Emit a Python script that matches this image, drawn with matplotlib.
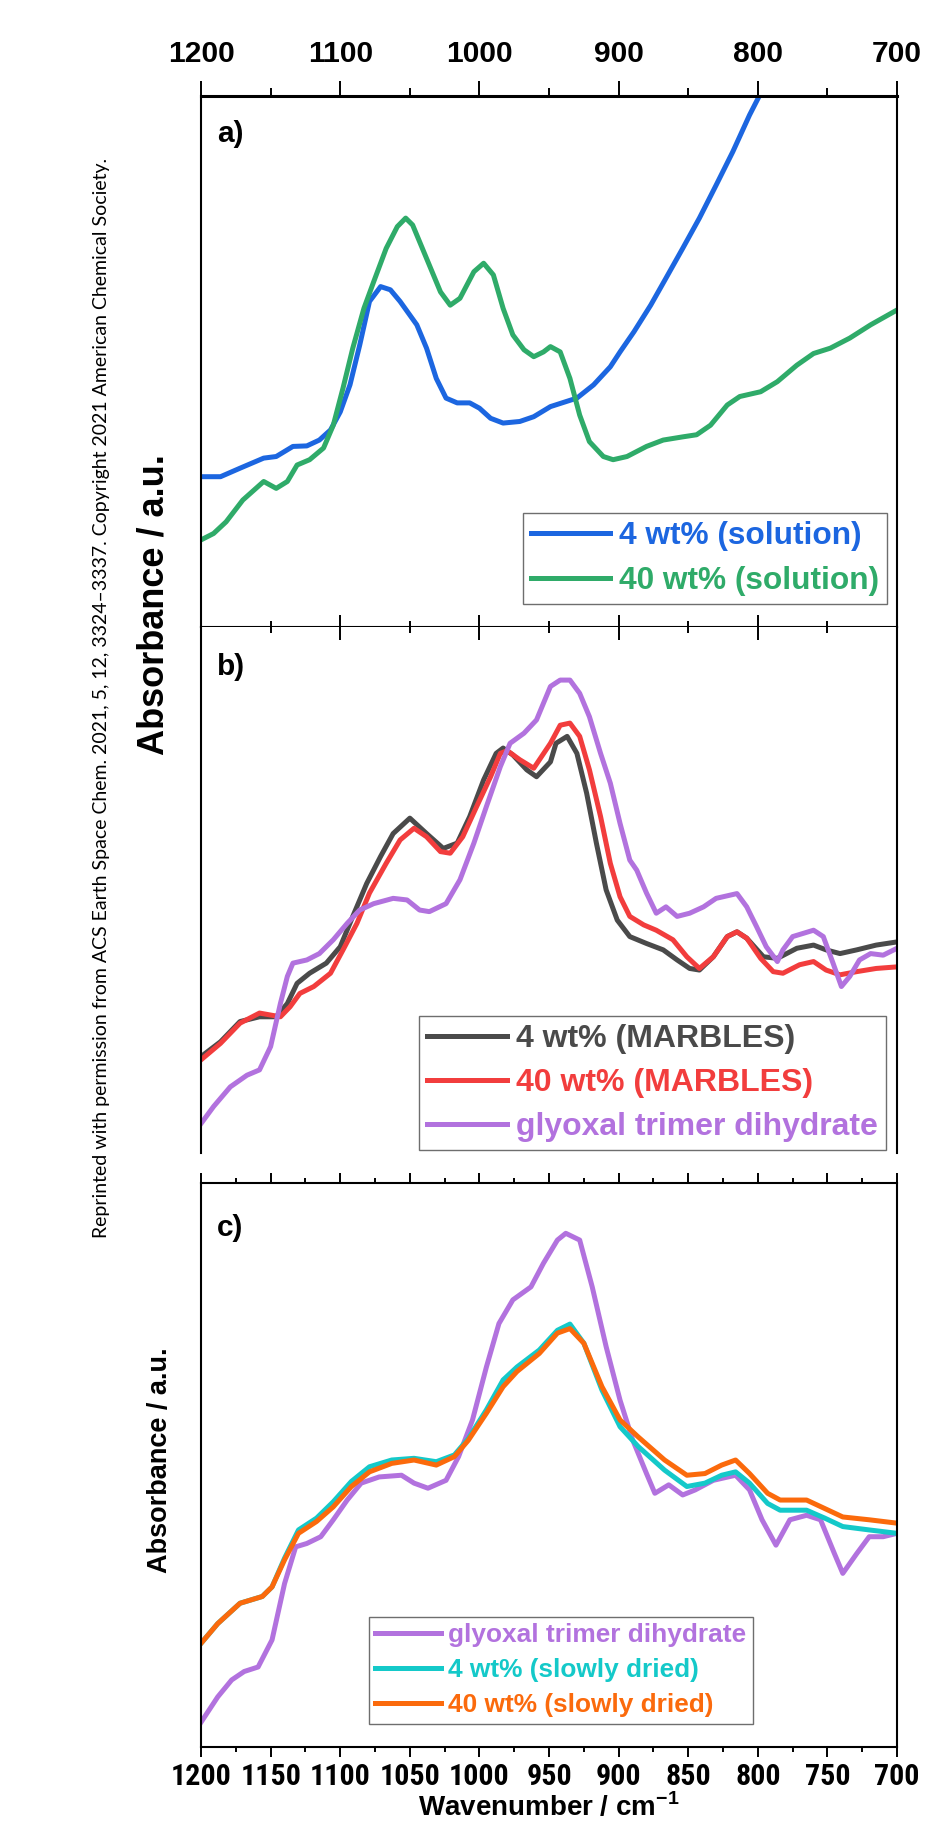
## plot.py
# three stacked ATR-IR panels: solution spectra, MARBLES spectra, slowly dried spectra

import matplotlib
matplotlib.use("Agg")
import matplotlib.pyplot as plt
from matplotlib import font_manager
from matplotlib.font_manager import FontProperties
from matplotlib.ticker import MultipleLocator, NullLocator

plt.rcParams['font.family'] = ['Liberation Sans', 'DejaVu Sans']
plt.rcParams['font.weight'] = 'bold'
plt.rcParams['mathtext.fontset'] = 'custom'
plt.rcParams['mathtext.rm'] = 'Liberation Sans:bold'
plt.rcParams['mathtext.bf'] = 'Liberation Sans:bold'


# panel a) solution spectra, absorbance in arbitrary units
wn_a_4 = [1200, 1186, 1172, 1155, 1146, 1134, 1124, 1115, 1107, 1100, 1093, 1086,
          1079, 1071, 1064, 1057, 1045, 1038, 1031, 1024, 1016, 1007, 1000, 992,
          983, 971, 961, 949, 930, 918, 906, 899, 889, 877, 866, 854, 842, 830,
          818, 806, 798]
abs_a_4 = [28.3, 28.3, 29.9, 31.8, 32.1, 34.0, 34.1, 35.2, 37.1, 40.5, 45.6, 53.1,
           61.3, 64.1, 63.5, 61.3, 56.9, 52.5, 46.8, 43.1, 42.2, 42.2, 41.2, 39.3,
           38.4, 38.7, 39.6, 41.5, 43.1, 45.6, 49.0, 51.8, 55.6, 60.6, 65.7, 71.3,
           77.0, 83.2, 89.5, 96.4, 100.5]

wn_a_40 = [1200, 1191, 1182, 1170, 1155, 1146, 1138, 1131, 1122, 1112, 1105, 1098,
           1091, 1083, 1076, 1067, 1059, 1053, 1048, 1038, 1028, 1021, 1014, 1004,
           997, 990, 983, 976, 968, 961, 954, 949, 942, 935, 928, 921, 911, 904,
           894, 880, 868, 854, 844, 834, 822, 813, 798, 786, 772, 760, 748, 734,
           719, 700]
abs_a_40 = [16.4, 17.6, 19.8, 23.9, 27.4, 26.1, 27.4, 30.5, 31.5, 33.7, 38.0, 45.0,
            52.5, 60.0, 65.0, 71.3, 75.4, 77.0, 75.7, 69.4, 63.1, 60.6, 61.9, 66.9,
            68.5, 66.3, 60.0, 55.0, 52.2, 50.9, 51.8, 52.8, 51.8, 46.8, 39.9, 34.9,
            32.1, 31.5, 32.1, 34.0, 35.2, 35.8, 36.2, 38.0, 41.8, 43.4, 44.3, 46.2,
            49.3, 51.5, 52.5, 54.4, 56.9, 59.7]

# panel b) MARBLES spectra and the glyoxal trimer dihydrate reference
wn_b_4 = [1200, 1186, 1172, 1158, 1146, 1138, 1131, 1122, 1110, 1100, 1091, 1081,
          1071, 1062, 1050, 1038, 1026, 1016, 1007, 997, 988, 983, 976, 966, 959,
          949, 945, 937, 930, 923, 916, 909, 901, 892, 880, 868, 858, 849, 842,
          832, 822, 815, 808, 796, 786, 772, 760, 751, 741, 729, 715, 700]
abs_b_4 = [19.1, 21.9, 25.7, 26.6, 26.6, 29.1, 32.9, 34.8, 36.7, 39.8, 45.5, 51.7,
           56.8, 61.1, 64.0, 61.1, 58.3, 59.3, 64.3, 71.2, 76.2, 77.2, 75.9, 73.1,
           71.8, 74.6, 78.1, 79.4, 76.2, 68.7, 59.3, 50.5, 44.8, 41.7, 40.4, 39.2,
           37.3, 35.7, 35.4, 37.9, 41.7, 42.6, 41.4, 37.9, 37.6, 39.5, 40.1, 39.2,
           38.5, 39.2, 40.1, 40.7]

wn_b_40 = [1200, 1186, 1172, 1158, 1143, 1136, 1129, 1119, 1107, 1098, 1088, 1079,
           1067, 1057, 1047, 1038, 1028, 1021, 1012, 1002, 992, 985, 980, 971, 961,
           949, 942, 935, 928, 921, 913, 906, 899, 892, 882, 873, 861, 851, 842,
           832, 822, 815, 808, 798, 789, 782, 770, 760, 751, 741, 729, 715, 700]
abs_b_40 = [18.5, 21.6, 25.4, 27.3, 26.6, 28.5, 31.0, 32.3, 34.8, 39.2, 44.2, 49.9,
            55.5, 59.9, 62.1, 60.5, 57.7, 57.4, 60.5, 66.2, 71.8, 76.2, 76.7, 75.0,
            73.4, 78.1, 81.5, 81.9, 79.4, 73.1, 64.3, 55.5, 49.2, 45.5, 43.9, 42.9,
            41.1, 37.9, 35.7, 37.9, 41.7, 42.6, 41.4, 37.6, 35.1, 34.8, 36.4, 37.0,
            35.4, 34.5, 35.1, 35.7, 36.0]

wn_b_gly = [1200, 1191, 1179, 1167, 1158, 1150, 1143, 1138, 1134, 1124, 1115, 1105,
            1095, 1086, 1076, 1062, 1052, 1043, 1036, 1024, 1014, 1004, 995, 985,
            978, 968, 959, 949, 942, 935, 928, 921, 913, 906, 899, 892, 887, 880,
            873, 866, 858, 849, 839, 830, 815, 808, 801, 794, 786, 782, 775, 760,
            753, 746, 740, 734, 727, 719, 710, 700]
abs_b_gly = [6.5, 9.7, 13.4, 15.6, 16.6, 21.0, 29.1, 34.2, 36.7, 37.3, 38.5, 41.1,
             44.2, 46.7, 47.9, 48.9, 48.6, 46.7, 46.4, 47.9, 52.4, 59.3, 66.2, 73.7,
             78.1, 80.0, 82.5, 88.8, 90.0, 90.0, 87.5, 83.1, 76.2, 70.6, 63.0, 56.1,
             54.2, 49.9, 46.1, 47.3, 45.5, 46.1, 47.3, 48.9, 49.8, 47.3, 43.6, 39.8,
             37.0, 39.2, 41.7, 42.9, 41.7, 36.7, 32.3, 34.2, 37.3, 38.5, 38.2, 39.5]

# panel c) slowly dried films and the glyoxal trimer dihydrate reference
wn_c_gly = [1200, 1188, 1178, 1169, 1159, 1149, 1140, 1132, 1124, 1114, 1105, 1095,
            1085, 1072, 1056, 1047, 1037, 1024, 1015, 1005, 995, 986, 976, 963,
            954, 944, 938, 928, 919, 909, 899, 890, 880, 874, 864, 854, 845, 832,
            816, 806, 797, 787, 777, 765, 755, 745, 739, 729, 720, 710, 700]
abs_c_gly = [4.4, 8.9, 11.9, 13.4, 14.2, 19.0, 29.0, 35.5, 36.1, 37.3, 40.3, 43.8,
             46.8, 47.9, 48.2, 46.8, 45.9, 47.3, 51.5, 58.0, 67.4, 75.1, 79.3, 81.6,
             85.8, 89.9, 91.1, 89.9, 81.6, 71.0, 61.5, 54.5, 48.5, 45.0, 46.5, 44.7,
             45.6, 47.3, 48.2, 45.6, 40.3, 35.8, 40.3, 41.1, 40.3, 34.3, 30.8, 34.3,
             37.3, 37.3, 37.9]

wn_c_dry = [1200, 1188, 1172, 1156, 1149, 1140, 1130, 1117, 1105, 1092, 1079, 1063,
            1047, 1031, 1018, 1008, 995, 983, 973, 957, 944, 935, 925, 912, 899,
            886, 867, 851, 838, 826, 816, 806, 793, 784, 765, 752, 739, 720, 700]
abs_c_4 = [18.4, 21.9, 25.5, 26.7, 28.4, 33.5, 38.5, 40.6, 43.5, 47.1, 49.7, 50.9,
           51.2, 50.6, 51.8, 54.7, 59.8, 65.1, 67.4, 70.4, 73.9, 75.0, 71.6, 63.3,
           56.8, 53.3, 49.1, 46.2, 46.8, 48.2, 48.8, 46.8, 43.2, 42.0, 42.0, 40.6,
           39.1, 38.5, 37.9]
abs_c_40 = [18.4, 21.9, 25.5, 26.7, 28.4, 33.2, 37.9, 40.0, 42.6, 46.2, 48.8, 50.3,
            50.9, 50.0, 51.5, 54.4, 59.2, 63.9, 66.6, 69.8, 73.4, 74.2, 71.6, 63.9,
            58.0, 55.0, 50.9, 48.2, 48.5, 50.0, 50.9, 48.5, 45.0, 43.8, 43.8, 42.3,
            40.8, 40.3, 39.7]

top_ticks = [1200, 1100, 1000, 900, 800, 700]
bottom_ticks = [1200, 1150, 1100, 1050, 1000, 950, 900, 850, 800, 750, 700]

copyright = ("Reprinted with permission from ACS Earth Space Chem. 2021, 5, 12, "
             "3324\u20133337. Copyright 2021 American Chemical Society.")

# colours
c_blue = '#1c66e0'
c_green = '#2fab69'
c_grey = '#4a4a4a'
c_red = '#f23d3d'
c_purple = '#b272de'
c_teal = '#14c9c9'
c_orange = '#fb6a0c'

lw = 3.6


# the bottom wavenumbers are set in a narrow bold face; use one if installed,
# otherwise a smaller regular-width bold so that the labels do not collide
def narrow_font():
    files = [f.fname for f in font_manager.fontManager.ttflist]
    for key in ['LiberationSansNarrow-Bold.', 'RobotoCondensed-Bold.',
                'NotoSans-CondensedBold.']:
        for f in files:
            if key in f:
                return FontProperties(fname=f, size=21.6)
    return FontProperties(family='Liberation Sans', weight='bold', size=19)


def legend(ax, size, loc, anchor, spacing):
    leg = ax.legend(loc=loc, bbox_to_anchor=anchor, borderaxespad=0,
                    prop={'family': 'Liberation Sans', 'weight': 'bold', 'size': size},
                    labelcolor='linecolor', handlelength=2.5, handletextpad=0.28,
                    borderpad=0.25, labelspacing=spacing, fancybox=False,
                    framealpha=1, edgecolor='#6e6e6e')
    leg.get_frame().set_linewidth(1.0)
    return leg


def base(ax):
    ax.set_xlim(1200, 700)
    ax.yaxis.set_major_locator(NullLocator())
    ax.tick_params(axis='y', which='both', left=False, right=False,
                   labelleft=False)
    for s in ax.spines.values():
        s.set_linewidth(1.5)


fig = plt.figure(figsize=(9.51, 18.21), dpi=100)
ax_a = fig.add_axes([0.2114, 0.6557, 0.7319, 0.2916])
ax_b = fig.add_axes([0.2114, 0.3668, 0.7319, 0.2889])
ax_c = fig.add_axes([0.2114, 0.0406, 0.7319, 0.3097])

# panel a
base(ax_a)
ax_a.plot(wn_a_4, abs_a_4, color=c_blue, lw=lw, label='4 wt% (solution)')
ax_a.plot(wn_a_40, abs_a_40, color=c_green, lw=lw, label='40 wt% (solution)')
ax_a.set_ylim(0, 100)
ax_a.spines['top'].set_linewidth(2.2)
ax_a.set_xticks(top_ticks)
ax_a.xaxis.set_minor_locator(MultipleLocator(50))
ax_a.tick_params(axis='x', which='both', bottom=False, top=True,
                 labelbottom=False, labeltop=True, direction='out', width=1.4)
ax_a.tick_params(axis='x', which='major', length=10.8, pad=9, labelsize=21.6)
ax_a.tick_params(axis='x', which='minor', length=5.8)
for t in ax_a.get_xticklabels():
    t.set_fontweight('bold')
ax_a.text(0.023, 0.928, 'a)', transform=ax_a.transAxes, fontsize=21.5,
          fontweight='bold', va='center')
legend(ax_a, 22.8, 'lower right', (0.986, 0.043), 0.48)

# panel b
base(ax_b)
ax_b.plot(wn_b_4, abs_b_4, color=c_grey, lw=lw, label='4 wt% (MARBLES)')
ax_b.plot(wn_b_40, abs_b_40, color=c_red, lw=lw, label='40 wt% (MARBLES)')
ax_b.plot(wn_b_gly, abs_b_gly, color=c_purple, lw=lw, label='glyoxal trimer dihydrate')
ax_b.set_ylim(0.94, 100)
ax_b.spines['bottom'].set_visible(False)
ax_b.spines['top'].set_visible(False)
ax_b.set_xticks(top_ticks)
ax_b.xaxis.set_minor_locator(MultipleLocator(50))
ax_b.tick_params(axis='x', which='both', bottom=False, top=True,
                 labelbottom=False, labeltop=False, direction='inout', width=1.4)
ax_b.tick_params(axis='x', which='major', length=18)
ax_b.tick_params(axis='x', which='minor', length=8.6)
ax_b.text(0.023, 0.924, 'b)', transform=ax_b.transAxes, fontsize=21.5,
          fontweight='bold', va='center')
legend(ax_b, 23.0, 'lower right', (0.984, 0.006), 0.44)

# panel c
base(ax_c)
ax_c.plot(wn_c_gly, abs_c_gly, color=c_purple, lw=lw, label='glyoxal trimer dihydrate')
ax_c.plot(wn_c_dry, abs_c_4, color=c_teal, lw=lw, label='4 wt% (slowly dried)')
ax_c.plot(wn_c_dry, abs_c_40, color=c_orange, lw=lw, label='40 wt% (slowly dried)')
ax_c.set_ylim(0, 100)
ax_c.set_xticks(bottom_ticks)
ax_c.xaxis.set_minor_locator(MultipleLocator(25))
ax_c.tick_params(axis='x', which='both', bottom=True, top=True,
                 labelbottom=True, labeltop=False, direction='out', width=1.4)
ax_c.tick_params(axis='x', which='major', length=7.2, pad=4)
ax_c.tick_params(axis='x', which='minor', length=3.4)
fp_narrow = narrow_font()
for t in ax_c.get_xticklabels():
    t.set_fontproperties(fp_narrow)
ax_c.text(0.023, 0.920, 'c)', transform=ax_c.transAxes, fontsize=21.5,
          fontweight='bold', va='center')
legend(ax_c, 18.9, 'lower left', (0.241, 0.041), 0.42)

# shared labels and the permission note
fig.text(0.5773, 1 - 1816 / 1821, r'Wavenumber / cm$^{-1}$', ha='center',
         va='baseline', fontsize=20, fontweight='bold')
fig.text(154 / 951, 1 - 605 / 1821, 'Absorbance / a.u.', rotation=90,
         ha='center', va='center', fontsize=26, fontweight='bold')
fig.text(160 / 951, 1 - 1460 / 1821, 'Absorbance / a.u.', rotation=90,
         ha='center', va='center', fontsize=19.5, fontweight='bold')
fig.text(102 / 951, 1 - 698 / 1821, copyright, rotation=90, ha='center',
         va='center', fontsize=14, fontweight='normal', family=['Lato', 'DejaVu Sans'])

fig.savefig('out.png', dpi=100)
